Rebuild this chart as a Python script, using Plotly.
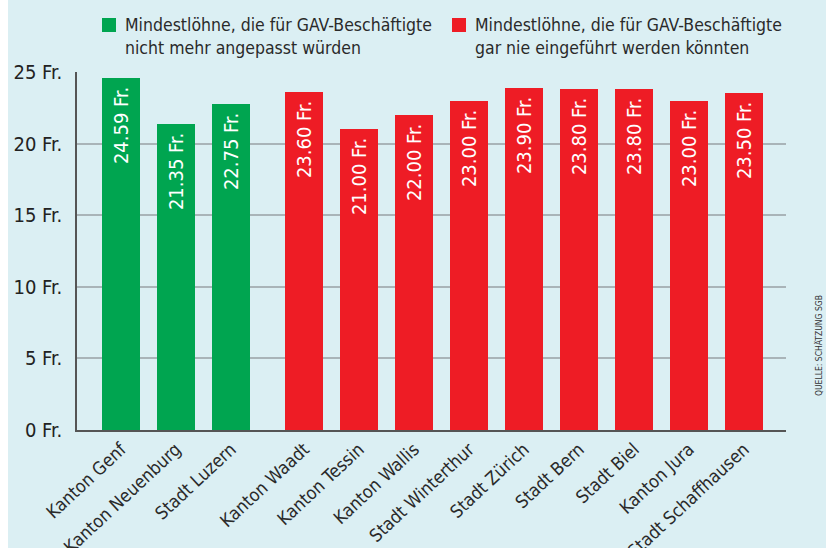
import plotly.graph_objects as go

categories_green = ["Kanton Genf", "Kanton Neuenburg", "Stadt Luzern"]
values_green = [24.59, 21.35, 22.75]
categories_red = ["Kanton Waadt", "Kanton Tessin", "Kanton Wallis", "Stadt Winterthur",
                  "Stadt Zürich", "Stadt Bern", "Stadt Biel", "Kanton Jura", "Stadt Schaffhausen"]
values_red = [23.60, 21.00, 22.00, 23.00, 23.90, 23.80, 23.80, 23.00, 23.50]
y_ticks = [0, 5, 10, 15, 20, 25]
legend_green = "Mindestlöhne, die für GAV-Beschäftigte<br>nicht mehr angepasst würden"
legend_red = "Mindestlöhne, die für GAV-Beschäftigte<br>gar nie eingeführt werden könnten"
source = "QUELLE: SCHÄTZUNG SGB"

FONT = "Liberation Sans Narrow, DejaVu Sans Condensed, Arial Narrow, sans-serif"
GREEN = "#00A550"
RED = "#EE1C25"
BG = "#DBEFF3"

OFF = 8                      # page offset of the figure (white strip on the left)
W, H = 826 - OFF, 548
L, R, T, B = 77 - OFF, 40, 72, 118
PW, PH = W - L - R, H - T - B

def px(x):
    # page pixel x -> paper coordinate
    return (x - OFF - L) / PW

def py(y):
    return (H - B - y) / PH

x_green = [i for i in range(len(values_green))]
x_red = [3.33 + i for i in range(len(values_red))]

def fmt(v):
    return f"{v:.2f} Fr.\u00a0"

fig = go.Figure()
for xs, ys, col in [(x_green, values_green, GREEN), (x_red, values_red, RED)]:
    fig.add_bar(x=xs, y=ys, width=0.69, marker=dict(color=col, line=dict(width=0)),
                text=[fmt(v) for v in ys], textposition="inside", textangle=-90,
                insidetextanchor="end", textfont=dict(color="white", size=20, family=FONT),
                showlegend=False, hoverinfo="skip")

fig.update_layout(
    width=W, height=H,
    margin=dict(l=L, r=R, t=T, b=B, autoexpand=False),
    paper_bgcolor=BG, plot_bgcolor=BG,
    font=dict(family=FONT, color="#2a2a2a"),
    bargap=0,
    uniformtext=dict(minsize=20, mode="show"),
    xaxis=dict(range=[-0.8, 12.09], tickmode="array", tickvals=x_green + x_red,
               ticktext=categories_green + categories_red, tickangle=-43, automargin=False,
               showgrid=False, zeroline=False, showline=True, linecolor="#555555", linewidth=1.5,
               ticks="", tickfont=dict(size=18, color="#2a2a2a", family=FONT), fixedrange=True),
    yaxis=dict(range=[0, 25], tickmode="array", tickvals=y_ticks, automargin=False,
               ticktext=[f"{v} Fr." for v in y_ticks],
               showgrid=True, gridcolor="#A9B4B8", gridwidth=1.5, zeroline=False,
               showline=True, linecolor="#555555", linewidth=1.5, ticks="",
               ticklabelstandoff=9,
               tickfont=dict(size=20, color="#222222", family=FONT), fixedrange=True),
    shapes=[
        dict(type="rect", xref="paper", yref="paper", x0=px(102), x1=px(116), y0=py(32), y1=py(18),
             fillcolor=GREEN, line=dict(width=0)),
        dict(type="rect", xref="paper", yref="paper", x0=px(452), x1=px(466), y0=py(32), y1=py(18),
             fillcolor=RED, line=dict(width=0)),
    ],
    annotations=[
        dict(text=legend_green, xref="paper", yref="paper", x=px(123), y=py(13),
             xanchor="left", yanchor="top", align="left", showarrow=False,
             font=dict(size=17.5, color="#2a2a2a", family=FONT)),
        dict(text=legend_red, xref="paper", yref="paper", x=px(473), y=py(13),
             xanchor="left", yanchor="top", align="left", showarrow=False,
             font=dict(size=17.5, color="#2a2a2a", family=FONT)),
        dict(text=source, xref="paper", yref="paper", x=px(819), y=py(346),
             xanchor="center", yanchor="middle", textangle=-90, showarrow=False,
             font=dict(size=8.5, color="#333333", family=FONT)),
    ],
)

fig.write_html(
    "out.html",
    post_script="document.body.style.margin='0px 0px 0px 8px';"
                "document.body.style.overflow='hidden';"
                "document.body.style.background='white';",
)
